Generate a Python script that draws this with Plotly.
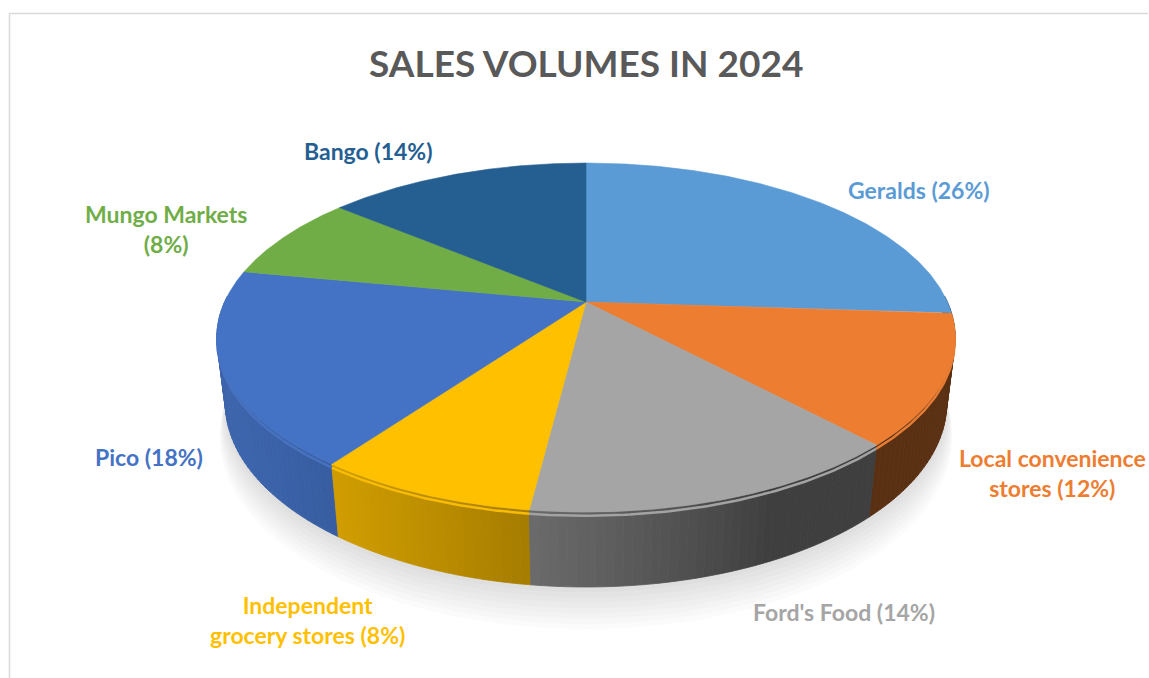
import numpy as np
import plotly.graph_objects as go

# ---------------- data ----------------
names = ["Geralds", "Local convenience stores", "Ford's Food",
         "Independent grocery stores", "Pico", "Mungo Markets", "Bango"]
values = [26, 12, 14, 8, 18, 8, 14]
colors = ["#5B9BD5", "#ED7D31", "#A5A5A5", "#FFC000", "#4472C4", "#70AD47", "#255E91"]
label_templates = ["Geralds ({p}%)", "Local convenience<br>stores ({p}%)", "Ford's Food ({p}%)",
                   "Independent<br>grocery stores ({p}%)", "Pico ({p}%)", "Mungo Markets<br>({p}%)",
                   "Bango ({p}%)"]
title_text = "SALES VOLUMES IN 2024"

# ---------------- layout / style ----------------
W, Hpx = 1149, 678
label_pos = [(919, 190), (1052, 473), (844, 612), (307, 620), (149, 457), (166, 229), (368, 151)]

theta = np.radians(28)
cth, sth = np.cos(theta), np.sin(theta)
DIST = 4.33
FX, FY = 1565, 1543
CX, CY = 586, 302
THICK = 0.21


def proj(phi, z, r=1.0):
    x = r * np.sin(phi)
    y = r * np.cos(phi)
    depth = DIST + y * cth - z * sth
    return CX + FX * x / depth, CY - FY * (y * sth + z * cth) / depth


def hex2rgb(h):
    h = h.lstrip("#")
    return np.array([int(h[i:i + 2], 16) for i in (0, 2, 4)], dtype=float)


def rgbstr(a):
    a = np.clip(a, 0, 255)
    return "rgb(%d,%d,%d)" % tuple(int(round(v)) for v in a)


total = float(sum(values))
bounds = np.concatenate([[0], np.cumsum(values)]) / total * 2 * np.pi

fig = go.Figure()

# soft shadow under the pie
phis_all = np.linspace(0, 2 * np.pi, 361)
for k in range(8, 0, -1):
    sx, sy = proj(phis_all, -THICK - 0.01 * k, r=1.0 + 0.003 * k)
    fig.add_trace(go.Scatter(x=sx, y=sy + 1.0 * k, mode="lines", fill="toself",
                             fillcolor="rgba(0,0,0,0.014)", line=dict(width=0),
                             hoverinfo="skip", showlegend=False))

# side wall quads
light_phi = np.radians(245)
quads = []
vis_lo, vis_hi = np.radians(88), np.radians(272)
for i, col in enumerate(colors):
    a0, a1 = max(bounds[i], vis_lo), min(bounds[i + 1], vis_hi)
    if a1 <= a0:
        continue
    n = max(2, int(np.degrees(a1 - a0) / 1.2))
    edges = np.linspace(a0, a1, n + 1)
    base = hex2rgb(col)
    for j in range(n):
        p0, p1 = edges[j], edges[j + 1]
        pm = 0.5 * (p0 + p1)
        shade = 0.38 + 0.5 * max(0.0, np.cos(pm - light_phi))
        quads.append((np.cos(pm), p0, p1, rgbstr(base * shade)))

quads.sort(key=lambda q: -q[0])
for _, p0, p1, fc in quads:
    pp = np.linspace(p0, p1, 4)
    tx, ty = proj(pp, 0.0)
    bx, by = proj(pp[::-1], -THICK)
    fig.add_trace(go.Scatter(x=np.concatenate([tx, bx, tx[:1]]), y=np.concatenate([ty, by, ty[:1]]),
                             mode="lines", fill="toself", fillcolor=fc,
                             line=dict(width=0.8, color=fc), hoverinfo="skip", showlegend=False))

# rim bevel highlight
for i, col in enumerate(colors):
    a0, a1 = max(bounds[i], vis_lo), min(bounds[i + 1], vis_hi)
    if a1 <= a0:
        continue
    pp = np.linspace(a0, a1, 80)
    base = hex2rgb(col)
    hx, hy = proj(pp, -0.01)
    fig.add_trace(go.Scatter(x=hx, y=hy, mode="lines",
                             line=dict(width=2.5, color=rgbstr(base * 0.95 + 6)),
                             hoverinfo="skip", showlegend=False))

# top faces
for i, col in enumerate(colors):
    pp = np.linspace(bounds[i], bounds[i + 1], 200)
    ax, ay = proj(pp, 0.0)
    xs = np.concatenate([[CX], ax, [CX]])
    ys = np.concatenate([[CY], ay, [CY]])
    fig.add_trace(go.Scatter(x=xs, y=ys, mode="lines", fill="toself", fillcolor=col,
                             line=dict(width=0.6, color=col), name=names[i],
                             hovertemplate=f"{names[i]}: {values[i]}%<extra></extra>",
                             showlegend=False))

# labels
annotations = []
for i, col in enumerate(colors):
    pct = round(values[i] / total * 100)
    annotations.append(dict(x=label_pos[i][0], y=label_pos[i][1], xref="x", yref="y",
                            text="<b>" + label_templates[i].format(p=pct) + "</b>",
                            showarrow=False, align="center",
                            font=dict(family="Lato", size=23, color=col)))
annotations.append(dict(x=586, y=62, xref="x", yref="y", text="<b>" + title_text + "</b>",
                        showarrow=False, font=dict(family="Lato", size=37, color="#595959")))

shapes = [
    dict(type="line", xref="x", yref="y", x0=9.5, x1=9.5, y0=13, y1=678,
         line=dict(color="#d9d9d9", width=1.5)),
    dict(type="line", xref="x", yref="y", x0=9, x1=1148, y0=13.5, y1=13.5,
         line=dict(color="#d9d9d9", width=1.5)),
]

fig.update_layout(
    width=W, height=Hpx, margin=dict(l=0, r=0, t=0, b=0),
    paper_bgcolor="white", plot_bgcolor="white",
    xaxis=dict(range=[0, W], visible=False, fixedrange=True),
    yaxis=dict(range=[Hpx, 0], visible=False, fixedrange=True),
    annotations=annotations, shapes=shapes, showlegend=False,
)

fig.write_html("out.html", config={"displayModeBar": False})
